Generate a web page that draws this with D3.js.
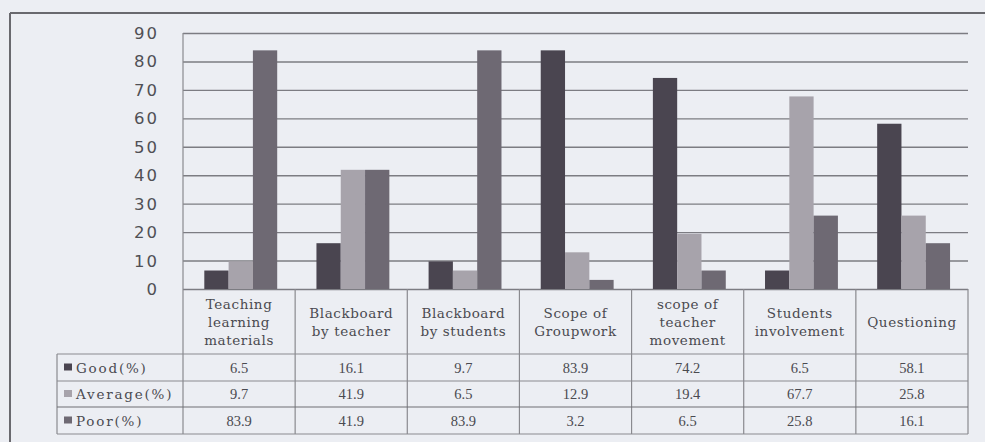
<!DOCTYPE html>
<html>
<head>
<meta charset="utf-8">
<script src="https://cdn.jsdelivr.net/npm/d3@7/dist/d3.min.js"></script>
<style>
  html, body { margin: 0; padding: 0; background: #eceef3; }
  svg { display: block; }
</style>
</head>
<body>
<svg id="chart" width="985" height="442"></svg>
<script>
// Classroom practice ratings (%), grouped by aspect
const categories = [
  "Teaching learning materials",
  "Blackboard by teacher",
  "Blackboard by students",
  "Scope of Groupwork",
  "scope of teacher movement",
  "Students involvement",
  "Questioning"
];
const categoryLines = [
  ["Teaching", "learning", "materials"],
  ["Blackboard", "by teacher"],
  ["Blackboard", "by students"],
  ["Scope of", "Groupwork"],
  ["scope of", "teacher", "movement"],
  ["Students", "involvement"],
  ["Questioning"]
];
const seriesNames = ["Good(%)", "Average(%)", "Poor(%)"];
const good    = [6.5, 16.1, 9.7, 83.9, 74.2, 6.5, 58.1];
const average = [9.7, 41.9, 6.5, 12.9, 19.4, 67.7, 25.8];
const poor    = [83.9, 41.9, 83.9, 3.2, 6.5, 25.8, 16.1];
const yTicks  = [0, 10, 20, 30, 40, 50, 60, 70, 80, 90];

const seriesValues = [good, average, poor];
const colors = ["#4a4550", "#a7a3ab", "#6e6973"];

const svg = d3.select("#chart");

// outer frame (top and left edges visible)
svg.append("line").attr("x1", 10).attr("x2", 985).attr("y1", 13).attr("y2", 13)
  .attr("stroke", "#69696e").attr("stroke-width", 2);
svg.append("line").attr("x1", 10).attr("x2", 10).attr("y1", 13).attr("y2", 442)
  .attr("stroke", "#69696e").attr("stroke-width", 2);

const plotLeft = 183, plotRight = 968, plotTop = 33, plotBottom = 289;

const y = d3.scaleLinear().domain([0, 90]).range([plotBottom, plotTop]);
const x = d3.scaleBand().domain(categories).range([plotLeft, plotRight]).padding(0);
const bw = x.bandwidth();
const xs = d3.scaleBand().domain(seriesNames).range([bw * 0.19, bw * 0.84]).padding(0);

// gridlines
const yAxis = d3.axisLeft(y).tickValues(yTicks).tickSize(-(plotRight - plotLeft)).tickPadding(0).tickFormat("");
const gy = svg.append("g").attr("transform", `translate(${plotLeft},0)`).call(yAxis);
gy.select(".domain").remove();
gy.selectAll(".tick line").attr("stroke", "#7c7c82").attr("stroke-width", 1.4);

// y tick labels
svg.append("g").selectAll("text").data(yTicks).join("text")
  .attr("x", 159).attr("y", d => y(d) + 6)
  .attr("text-anchor", "end")
  .attr("font-family", "DejaVu Sans, Verdana, sans-serif")
  .attr("font-size", 16.5)
  .attr("letter-spacing", 2)
  .attr("fill", "#505055")
  .text(d => d);

// bars
const groups = svg.append("g").selectAll("g").data(categories).join("g")
  .attr("transform", d => `translate(${x(d)},0)`);
groups.selectAll("rect")
  .data((c, i) => seriesNames.map((s, k) => ({ s, k, v: seriesValues[k][i] })))
  .join("rect")
  .attr("x", d => xs(d.s))
  .attr("width", xs.bandwidth())
  .attr("y", d => y(d.v))
  .attr("height", d => y(0) - y(d.v))
  .attr("fill", d => colors[d.k]);

// data table under the plot
const rowTops = [354, 381, 407, 434];
const tableLeft = 57;
const lineColor = "#8a8a8f";

// vertical axis / column lines
const colEdges = [plotLeft].concat(categories.map(c => x(c) + bw));
svg.append("g").selectAll("line").data(colEdges).join("line")
  .attr("x1", d => d).attr("x2", d => d)
  .attr("y1", (d, i) => i === 0 ? plotTop : plotBottom)
  .attr("y2", rowTops[3])
  .attr("stroke", lineColor).attr("stroke-width", 1.2);
svg.append("line").attr("x1", tableLeft).attr("x2", tableLeft)
  .attr("y1", rowTops[0]).attr("y2", rowTops[3])
  .attr("stroke", lineColor).attr("stroke-width", 1.2);
svg.append("g").selectAll("line").data(rowTops).join("line")
  .attr("x1", tableLeft).attr("x2", plotRight)
  .attr("y1", d => d).attr("y2", d => d)
  .attr("stroke", (d, i) => i === 2 ? "#6e6e74" : lineColor)
  .attr("stroke-width", 1.2);

// category header labels
const header = svg.append("g").selectAll("text").data(categories).join("text")
  .attr("text-anchor", "middle")
  .attr("font-family", "DejaVu Serif, serif")
  .attr("font-size", 13.5)
  .attr("letter-spacing", 0.6)
  .attr("fill", "#4a4a50");
header.each(function (c, i) {
  const lines = categoryLines[i];
  const cx = x(c) + bw / 2;
  const mid = (plotBottom + rowTops[0]) / 2;
  const step = 18;
  d3.select(this).selectAll("tspan").data(lines).join("tspan")
    .attr("x", cx)
    .attr("y", (l, j) => mid + (j - (lines.length - 1) / 2) * step + 5)
    .text(l => l);
});

// row legend keys and labels
seriesNames.forEach((s, k) => {
  const cy = (rowTops[k] + rowTops[k + 1]) / 2;
  svg.append("rect").attr("x", 64).attr("y", cy - 4).attr("width", 8).attr("height", 7)
    .attr("fill", colors[k]);
  svg.append("text").attr("x", 76).attr("y", cy + 5)
    .attr("font-family", "DejaVu Serif, serif")
    .attr("font-size", 13.5)
    .attr("letter-spacing", 1.8)
    .attr("fill", "#4a4a50")
    .text(s);
  svg.append("g").selectAll("text").data(categories).join("text")
    .attr("x", c => x(c) + bw / 2)
    .attr("y", cy + 5)
    .attr("text-anchor", "middle")
    .attr("font-family", "Liberation Serif, serif")
    .attr("font-size", 14.5)
    .attr("fill", "#4a4a50")
    .text((c, i) => seriesValues[k][i]);
});
</script>
</body>
</html>
